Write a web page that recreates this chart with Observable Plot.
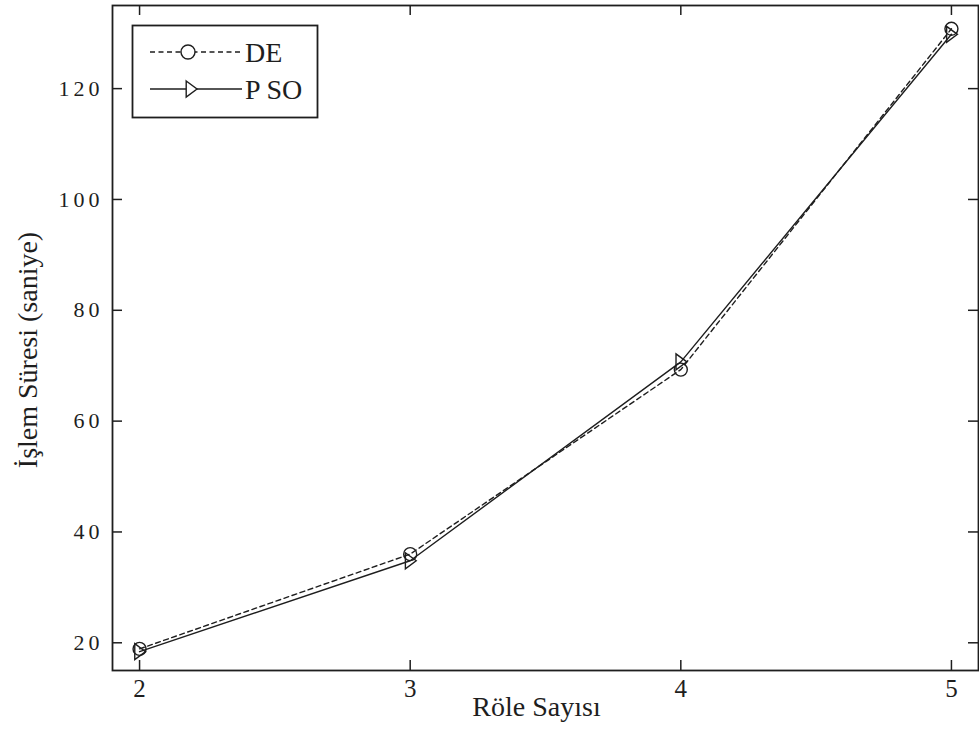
<!DOCTYPE html>
<html><head><meta charset="utf-8">
<script src="https://cdn.jsdelivr.net/npm/d3@7"></script>
<script src="https://cdn.jsdelivr.net/npm/@observablehq/plot@0.6"></script>
<style>
body{margin:0;background:#fff;}
#chart{position:relative;width:979px;height:731px;}
#legend{position:absolute;left:0;top:0;}
</style></head><body><div id="chart"></div>
<script>
const roleCounts = [2, 3, 4, 5];
const deTimes = [18.9, 36.0, 69.3, 130.8];
const psoTimes = [18.4, 34.8, 70.7, 129.8];
const seriesNames = ["DE", "P SO"];
const xTicks = [2, 3, 4, 5];
const yTicks = [20, 40, 60, 80, 100, 120];
const xLabel = "Röle Sayısı";
const yLabel = "İşlem Süresi (saniye)";

const W = 979, H = 731, mL = 112, mR = 1, mT = 5, mB = 61;
const pw = W - mL - mR, ph = H - mT - mB;
const ink = "#1e1e1e";
const de = roleCounts.map((x, i) => ({x, y: deTimes[i]}));
const pso = roleCounts.map((x, i) => ({x, y: psoTimes[i]}));

const triRight = {draw(ctx, size) {
  const r = Math.sqrt(size / Math.PI);
  ctx.moveTo(-0.6 * r, -r); ctx.lineTo(0.75 * r, 0); ctx.lineTo(-0.6 * r, r); ctx.closePath();
}};

const plot = Plot.plot({
  width: W, height: H,
  marginLeft: mL, marginRight: mR, marginTop: mT, marginBottom: mB,
  style: {fontFamily: "Liberation Serif", color: ink, background: "#fff"},
  x: {domain: [1.9, 5.1]},
  y: {domain: [15, 135]},
  marks: [
    Plot.line(de, {x: "x", y: "y", stroke: ink, strokeWidth: 1.4, strokeDasharray: "5,3.5"}),
    Plot.line(pso, {x: "x", y: "y", stroke: ink, strokeWidth: 1.4}),
    Plot.dot(de, {x: "x", y: "y", r: 6.5, symbol: "circle", stroke: ink, fill: "none", strokeWidth: 1.4}),
    Plot.dot(pso, {x: "x", y: "y", r: 8, symbol: triRight, stroke: ink, fill: "none", strokeWidth: 1.4}),
    Plot.tickX(xTicks, {x: d => d, insetTop: ph - 10, stroke: ink, strokeWidth: 1.5}),
    Plot.tickX(xTicks, {x: d => d, insetBottom: ph - 10, stroke: ink, strokeWidth: 1.5}),
    Plot.tickY(yTicks, {y: d => d, insetRight: pw - 10, stroke: ink, strokeWidth: 1.5}),
    Plot.tickY(yTicks, {y: d => d, insetLeft: pw - 10, stroke: ink, strokeWidth: 1.5}),
    Plot.axisX(xTicks, {tickSize: 0, tickPadding: 9, fontSize: 25, tickFormat: d => String(d), label: null}),
    Plot.axisY(yTicks, {tickSize: 0, tickPadding: 9, fontSize: 22, tickFormat: d => String(d), label: null}),
    Plot.frame({stroke: ink, strokeWidth: 1.8}),
    Plot.text([xLabel], {text: d => d, frameAnchor: "bottom", lineAnchor: "top", dy: 26, dx: -9, fontSize: 28, fill: ink}),
    Plot.text([yLabel], {text: d => d, frameAnchor: "left", textAnchor: "middle", rotate: -90, dx: -84, dy: 12, fontSize: 28, fill: ink})
  ]
});
const chart = document.getElementById("chart");
chart.appendChild(plot);
d3.select(plot).select("g[aria-label='y-axis tick label']").style("letter-spacing", "4px");

// legend overlay
const svg = d3.select(chart).append("svg").attr("id", "legend")
  .attr("width", W).attr("height", H).style("pointer-events", "none");
svg.append("rect").attr("x", 132.5).attr("y", 25.5).attr("width", 185).attr("height", 92)
  .attr("fill", "#fff").attr("stroke", ink).attr("stroke-width", 1.8);
const rowsY = [52, 89];
seriesNames.forEach((name, i) => {
  const g = svg.append("g").attr("transform", `translate(0,${rowsY[i]})`);
  g.append("line").attr("x1", 150).attr("x2", 242).attr("y1", 0).attr("y2", 0)
    .attr("stroke", ink).attr("stroke-width", 1.4)
    .attr("stroke-dasharray", i === 0 ? "5,3.5" : null);
  if (i === 0) {
    g.append("circle").attr("cx", 188).attr("cy", 0).attr("r", 7).attr("fill", "#fff")
      .attr("stroke", ink).attr("stroke-width", 1.4);
  } else {
    g.append("path").attr("d", d3.symbol(triRight, Math.PI * 64)())
      .attr("transform", "translate(191,0)").attr("fill", "#fff")
      .attr("stroke", ink).attr("stroke-width", 1.4);
  }
  g.append("text").attr("x", 245).attr("y", 10).text(name)
    .attr("font-family", "Liberation Serif").attr("font-size", 28).attr("fill", ink);
});
</script>
</body></html>
